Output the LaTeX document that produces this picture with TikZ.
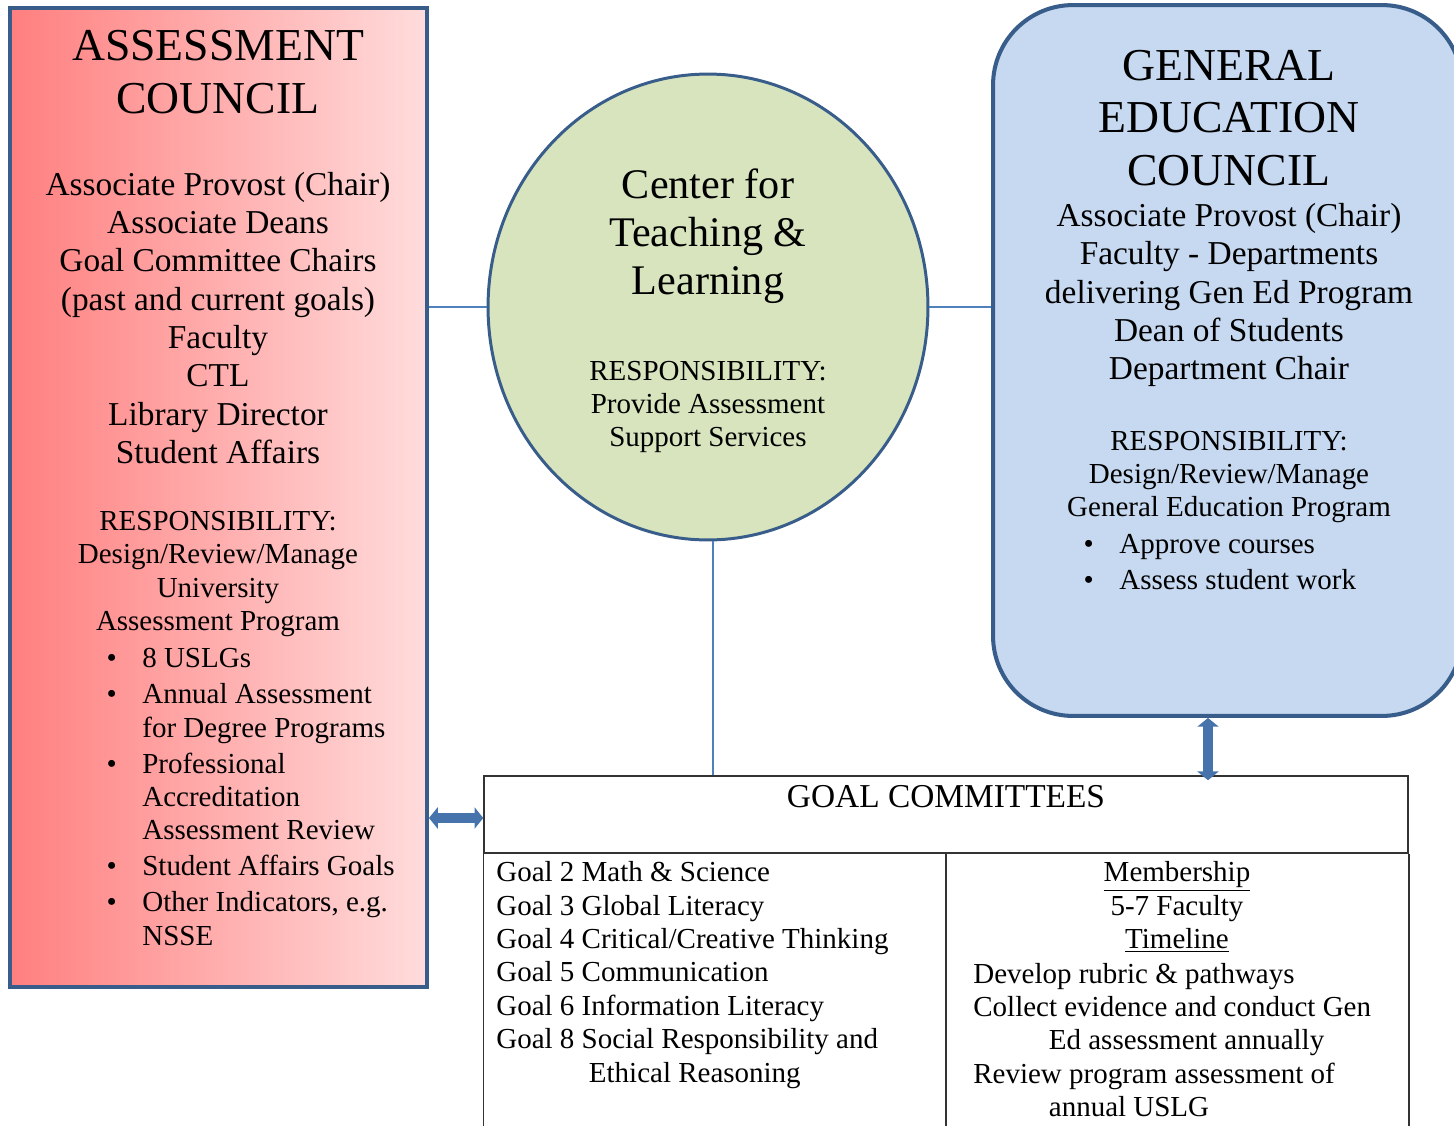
\documentclass[tikz,border=0pt]{standalone}
\usepackage{fontspec}
\setmainfont{Liberation Serif}
\usetikzlibrary{shapes.geometric,arrows.meta}

\definecolor{borde}{HTML}{385D8A}
\definecolor{rojo}{HTML}{FF7F7F}
\definecolor{rosa}{HTML}{FFDCDC}
\definecolor{verde}{HTML}{D7E4BD}
\definecolor{azul}{HTML}{C6D9F1}
\definecolor{linea}{HTML}{4F81BD}
\definecolor{flechaazul}{HTML}{4673AC}

\newcommand{\punto}{\llap{\textbullet\hspace{14.5pt}}}

\begin{document}
\begin{tikzpicture}[x=0.02cm, y=-0.02cm,
    caja/.style={draw=borde, line width=2.3pt, inner sep=0pt},
    titulo/.style={align=center, inner sep=0pt, font=\fontsize{26}{30}\selectfont},
    texto/.style={align=center, inner sep=0pt, font=\fontsize{19}{21.8}\selectfont},
    resp/.style={align=center, inner sep=0pt, font=\fontsize{16.5}{19}\selectfont},
    lista/.style={align=left, anchor=west, inner sep=0pt, font=\fontsize{16.5}{19}\selectfont},
    enlace/.style={draw=linea, line width=0.9pt},
    flecha/.style={draw=flechaazul, line width=5.5pt, {Triangle[width=12pt,length=5pt]}-{Triangle[width=12pt,length=5pt]}},
    tabla/.style={draw=black!80, line width=0.9pt}]
    \useasboundingbox (0,0) rectangle (1454,1126);

    % Consejo de evaluación
    \node[caja, left color=rojo, right color=rosa, minimum width=8.34cm, minimum height=19.58cm] (ac) at (218.5,497.5) {};
    \node[titulo] (ac-tit) at (218,72) {ASSESSMENT\\COUNCIL};
    \node[texto] (ac-miem) at (218,318) {Associate Provost (Chair)\\Associate Deans\\Goal Committee Chairs\\(past and current goals)\\Faculty\\CTL\\Library Director\\Student Affairs};
    \node[resp] (ac-resp) at (218,574) {RESPONSIBILITY:\\Design/Review/Manage\\University\\Assessment Program};
    \node[lista] (ac-lista) at (142,797) {\punto 8 USLGs\\[1.5pt]
        \punto Annual Assessment\\for Degree Programs\\[1.5pt]
        \punto Professional\\Accreditation\\Assessment Review\\[1.5pt]
        \punto Student Affairs Goals\\[1.5pt]
        \punto Other Indicators, e.g.\\NSSE};

    % Centro de enseñanza
    \node[ellipse, draw=borde, line width=1.7pt, fill=verde, minimum width=8.8cm, minimum height=9.32cm, inner sep=0pt] (ctl) at (708,307) {};
    \node[align=center, inner sep=0pt, font=\fontsize{24}{27.2}\selectfont] (ctl-tit) at (708,236) {Center for\\Teaching \&\\Learning};
    \node[resp] (ctl-resp) at (708,407) {RESPONSIBILITY:\\Provide Assessment\\Support Services};

    % Consejo de educación general
    \node[caja, fill=azul, rounded corners=1.6cm, minimum width=9.38cm, minimum height=14.22cm] (gec) at (1227.5,360.5) {};
    \node[titulo] (gec-tit) at (1229,118) {GENERAL\\EDUCATION\\COUNCIL};
    \node[texto] (gec-miem) at (1229,295) {Associate Provost (Chair)\\Faculty - Departments\\delivering Gen Ed Program\\Dean of Students\\Department Chair};
    \node[resp] (gec-resp) at (1229,477) {RESPONSIBILITY:\\Design/Review/Manage\\General Education Program};
    \node[lista] (gec-lista) at (1119,562) {\punto Approve courses\\[1.5pt]\punto Assess student work};

    % Comités de metas
    \node[tabla, minimum width=18.48cm, minimum height=1.54cm, inner sep=0pt] (goals) at (946,814.5) {};
    \node[texto] (goals-tit) at (946,797) {GOAL COMMITTEES};
    \coordinate (fondo) at (0,1140);
    \draw[tabla] (goals.south west) -- (goals.south west |- fondo);
    \draw[tabla] (goals.south east) -- (goals.south east |- fondo);
    \draw[tabla] (goals.south) -- (goals.south |- fondo);
    \node[lista] (metas) at (496,975) {Goal 2 Math \& Science\\Goal 3 Global Literacy\\Goal 4 Critical/Creative Thinking\\Goal 5 Communication\\Goal 6 Information Literacy\\Goal 8 Social Responsibility and\\\hspace*{52.7pt}Ethical Reasoning};
    \node[resp] (miembros) at (1177,907) {\underline{Membership}\\5-7 Faculty\\\underline{Timeline}};
    \node[lista] (plazos) at (973,1040) {Develop rubric \& pathways\\Collect evidence and conduct Gen\\\hspace*{43pt}Ed assessment annually\\Review program assessment of\\\hspace*{43pt}annual USLG};

    % Enlaces y flechas
    \draw[enlace] (ac.east |- ctl.west) -- (ctl.west);
    \draw[enlace] (ctl.east) -- (gec.west |- ctl.east);
    \draw[enlace] ([xshift=0.1cm]ctl.south) -- ([xshift=0.1cm]ctl.south |- goals.north);
    \coordinate (gx) at (1208,0);
    \draw[flecha] (ac.east |- 0,818) -- (goals.west |- 0,818);
    \draw[flecha] (gec.south -| gx) -- ([yshift=-0.1cm]goals.north -| gx);
\end{tikzpicture}
\end{document}
